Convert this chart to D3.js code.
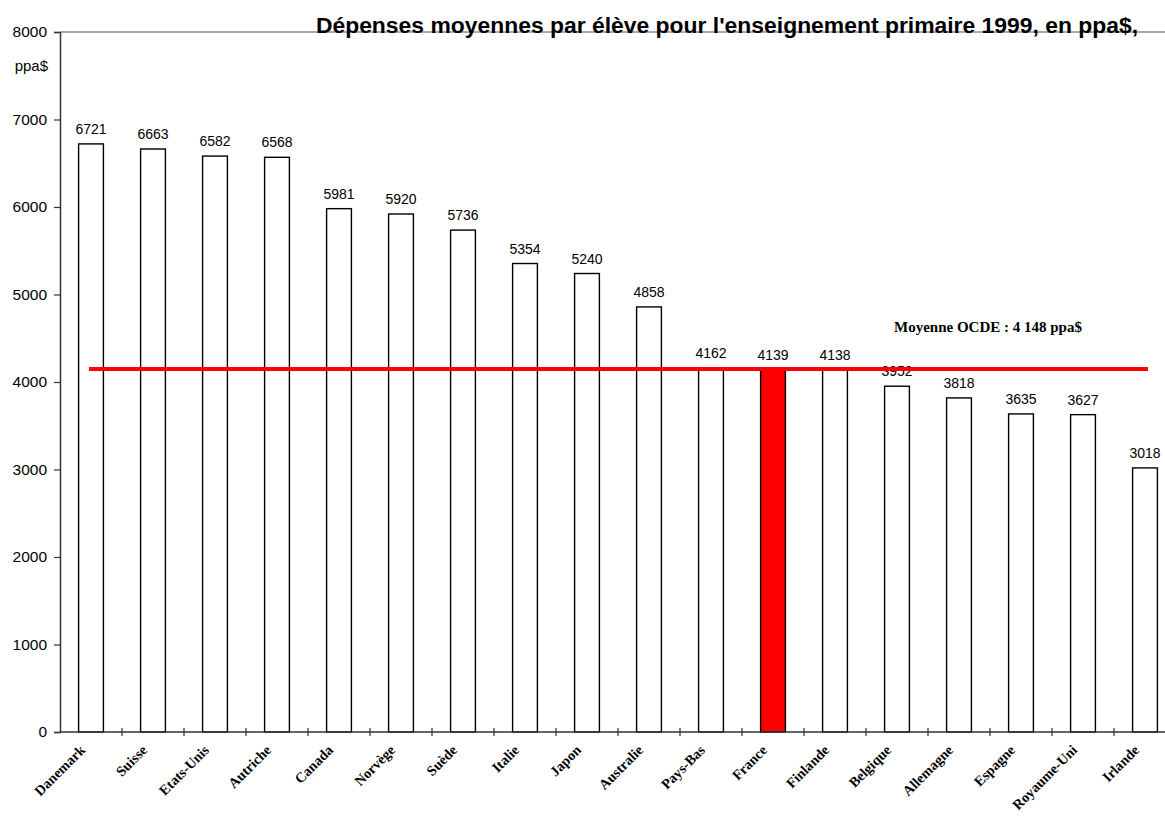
<!DOCTYPE html>
<html>
<head>
<meta charset="utf-8">
<script src="https://cdn.jsdelivr.net/npm/d3@7/dist/d3.min.js"></script>
<style>
  html, body { margin: 0; padding: 0; background: #fff; }
  svg { display: block; }
</style>
</head>
<body>
<svg id="chart" width="1165" height="817"></svg>
<script>
// Dépenses moyennes par élève, enseignement primaire 1999 (ppa$)
const countries = ["Danemark", "Suisse", "Etats-Unis", "Autriche", "Canada", "Norvège", "Suède", "Italie", "Japon", "Australie", "Pays-Bas", "France", "Finlande", "Belgique", "Allemagne", "Espagne", "Royaume-Uni", "Irlande"];
const spending = [6721, 6663, 6582, 6568, 5981, 5920, 5736, 5354, 5240, 4858, 4162, 4139, 4138, 3952, 3818, 3635, 3627, 3018];
const yTicks = [0, 1000, 2000, 3000, 4000, 5000, 6000, 7000, 8000];
const oecdMean = 4148;
const highlighted = "France";
const titleText = "Dépenses moyennes par élève pour l'enseignement primaire 1999, en ppa$,";
const unitText = "ppa$";
const meanLabel = "Moyenne OCDE : 4 148 ppa$";

const svg = d3.select("#chart");
const plotLeft = 60, plotRight = 1176, plotTop = 32, plotBottom = 732;

const x = d3.scaleBand().domain(countries).range([plotLeft, plotRight]).paddingInner(0).paddingOuter(0);
const y = d3.scaleLinear().domain([0, 8000]).range([plotBottom, plotTop]);
const barW = x.bandwidth() * 0.4;

// top frame line
svg.append("line")
  .attr("x1", plotLeft).attr("x2", 1165).attr("y1", y(8000)).attr("y2", y(8000))
  .attr("stroke", "#555").attr("stroke-width", 1);

// y axis
const yAxis = svg.append("g")
  .attr("transform", `translate(${plotLeft},0)`)
  .call(d3.axisLeft(y).tickValues(yTicks).tickSize(6).tickPadding(7).tickFormat(d3.format("d")));
yAxis.select(".domain").attr("stroke", "#333").attr("stroke-width", 1.5);
yAxis.selectAll(".tick line").attr("stroke", "#333").attr("stroke-width", 1.2);
yAxis.selectAll(".tick text")
  .attr("font-family", "'Liberation Sans', Arial, sans-serif")
  .attr("font-size", 15.5).attr("fill", "#000");

svg.append("text")
  .attr("x", 48).attr("y", 71)
  .attr("text-anchor", "end")
  .attr("font-family", "'Liberation Sans', Arial, sans-serif")
  .attr("font-size", 15).attr("fill", "#000")
  .text(unitText);

// bars
svg.append("g").selectAll("rect")
  .data(countries)
  .join("rect")
  .attr("x", (d) => x(d) + (x.bandwidth() - barW) / 2)
  .attr("width", barW)
  .attr("y", (d, i) => y(spending[i]))
  .attr("height", (d, i) => y(0) - y(spending[i]))
  .attr("fill", (d) => d === highlighted ? "#ff0000" : "#fff")
  .attr("stroke", "#000")
  .attr("stroke-width", 1.4);

// value labels
svg.append("g").selectAll("text")
  .data(countries)
  .join("text")
  .attr("x", (d) => x(d) + x.bandwidth() / 2)
  .attr("y", (d, i) => y(spending[i]) - 10)
  .attr("text-anchor", "middle")
  .attr("font-family", "'Liberation Sans', Arial, sans-serif")
  .attr("font-size", 14).attr("fill", "#000")
  .text((d, i) => spending[i]);

// x axis with ticks on category boundaries
const xAxisG = svg.append("g");
xAxisG.append("line")
  .attr("x1", plotLeft).attr("x2", 1165).attr("y1", plotBottom).attr("y2", plotBottom)
  .attr("stroke", "#333").attr("stroke-width", 1.5);
xAxisG.selectAll("line.tk")
  .data(countries.slice(1))
  .join("line")
  .attr("class", "tk")
  .attr("x1", (d) => x(d)).attr("x2", (d) => x(d))
  .attr("y1", plotBottom - 4).attr("y2", plotBottom + 4)
  .attr("stroke", "#333").attr("stroke-width", 1.2);

svg.append("g").selectAll("text")
  .data(countries)
  .join("text")
  .attr("transform", (d) => `translate(${x(d) + x.bandwidth() / 2 - 5},${plotBottom + 19}) rotate(-45)`)
  .attr("text-anchor", "end")
  .attr("font-family", "'Liberation Serif', 'Times New Roman', serif")
  .attr("font-weight", "bold")
  .attr("font-size", 14.2).attr("fill", "#000")
  .text((d) => d);

// OECD mean line
const firstC = x(countries[0]) + x.bandwidth() / 2;
const lastC = x(countries[countries.length - 1]) + x.bandwidth() / 2 + 3;
svg.append("line")
  .attr("x1", firstC - 2).attr("x2", lastC)
  .attr("y1", y(oecdMean)).attr("y2", y(oecdMean))
  .attr("stroke", "#ff0000").attr("stroke-width", 4);

svg.append("text")
  .attr("x", 988).attr("y", 332)
  .attr("text-anchor", "middle")
  .attr("font-family", "'Liberation Serif', 'Times New Roman', serif")
  .attr("font-weight", "bold")
  .attr("font-size", 15).attr("fill", "#000")
  .text(meanLabel);

// title
svg.append("text")
  .attr("x", 727).attr("y", 33)
  .attr("text-anchor", "middle")
  .attr("font-family", "'Liberation Sans', Arial, sans-serif")
  .attr("font-weight", "bold")
  .attr("font-size", 22.9).attr("fill", "#000")
  .text(titleText);
</script>
</body>
</html>
